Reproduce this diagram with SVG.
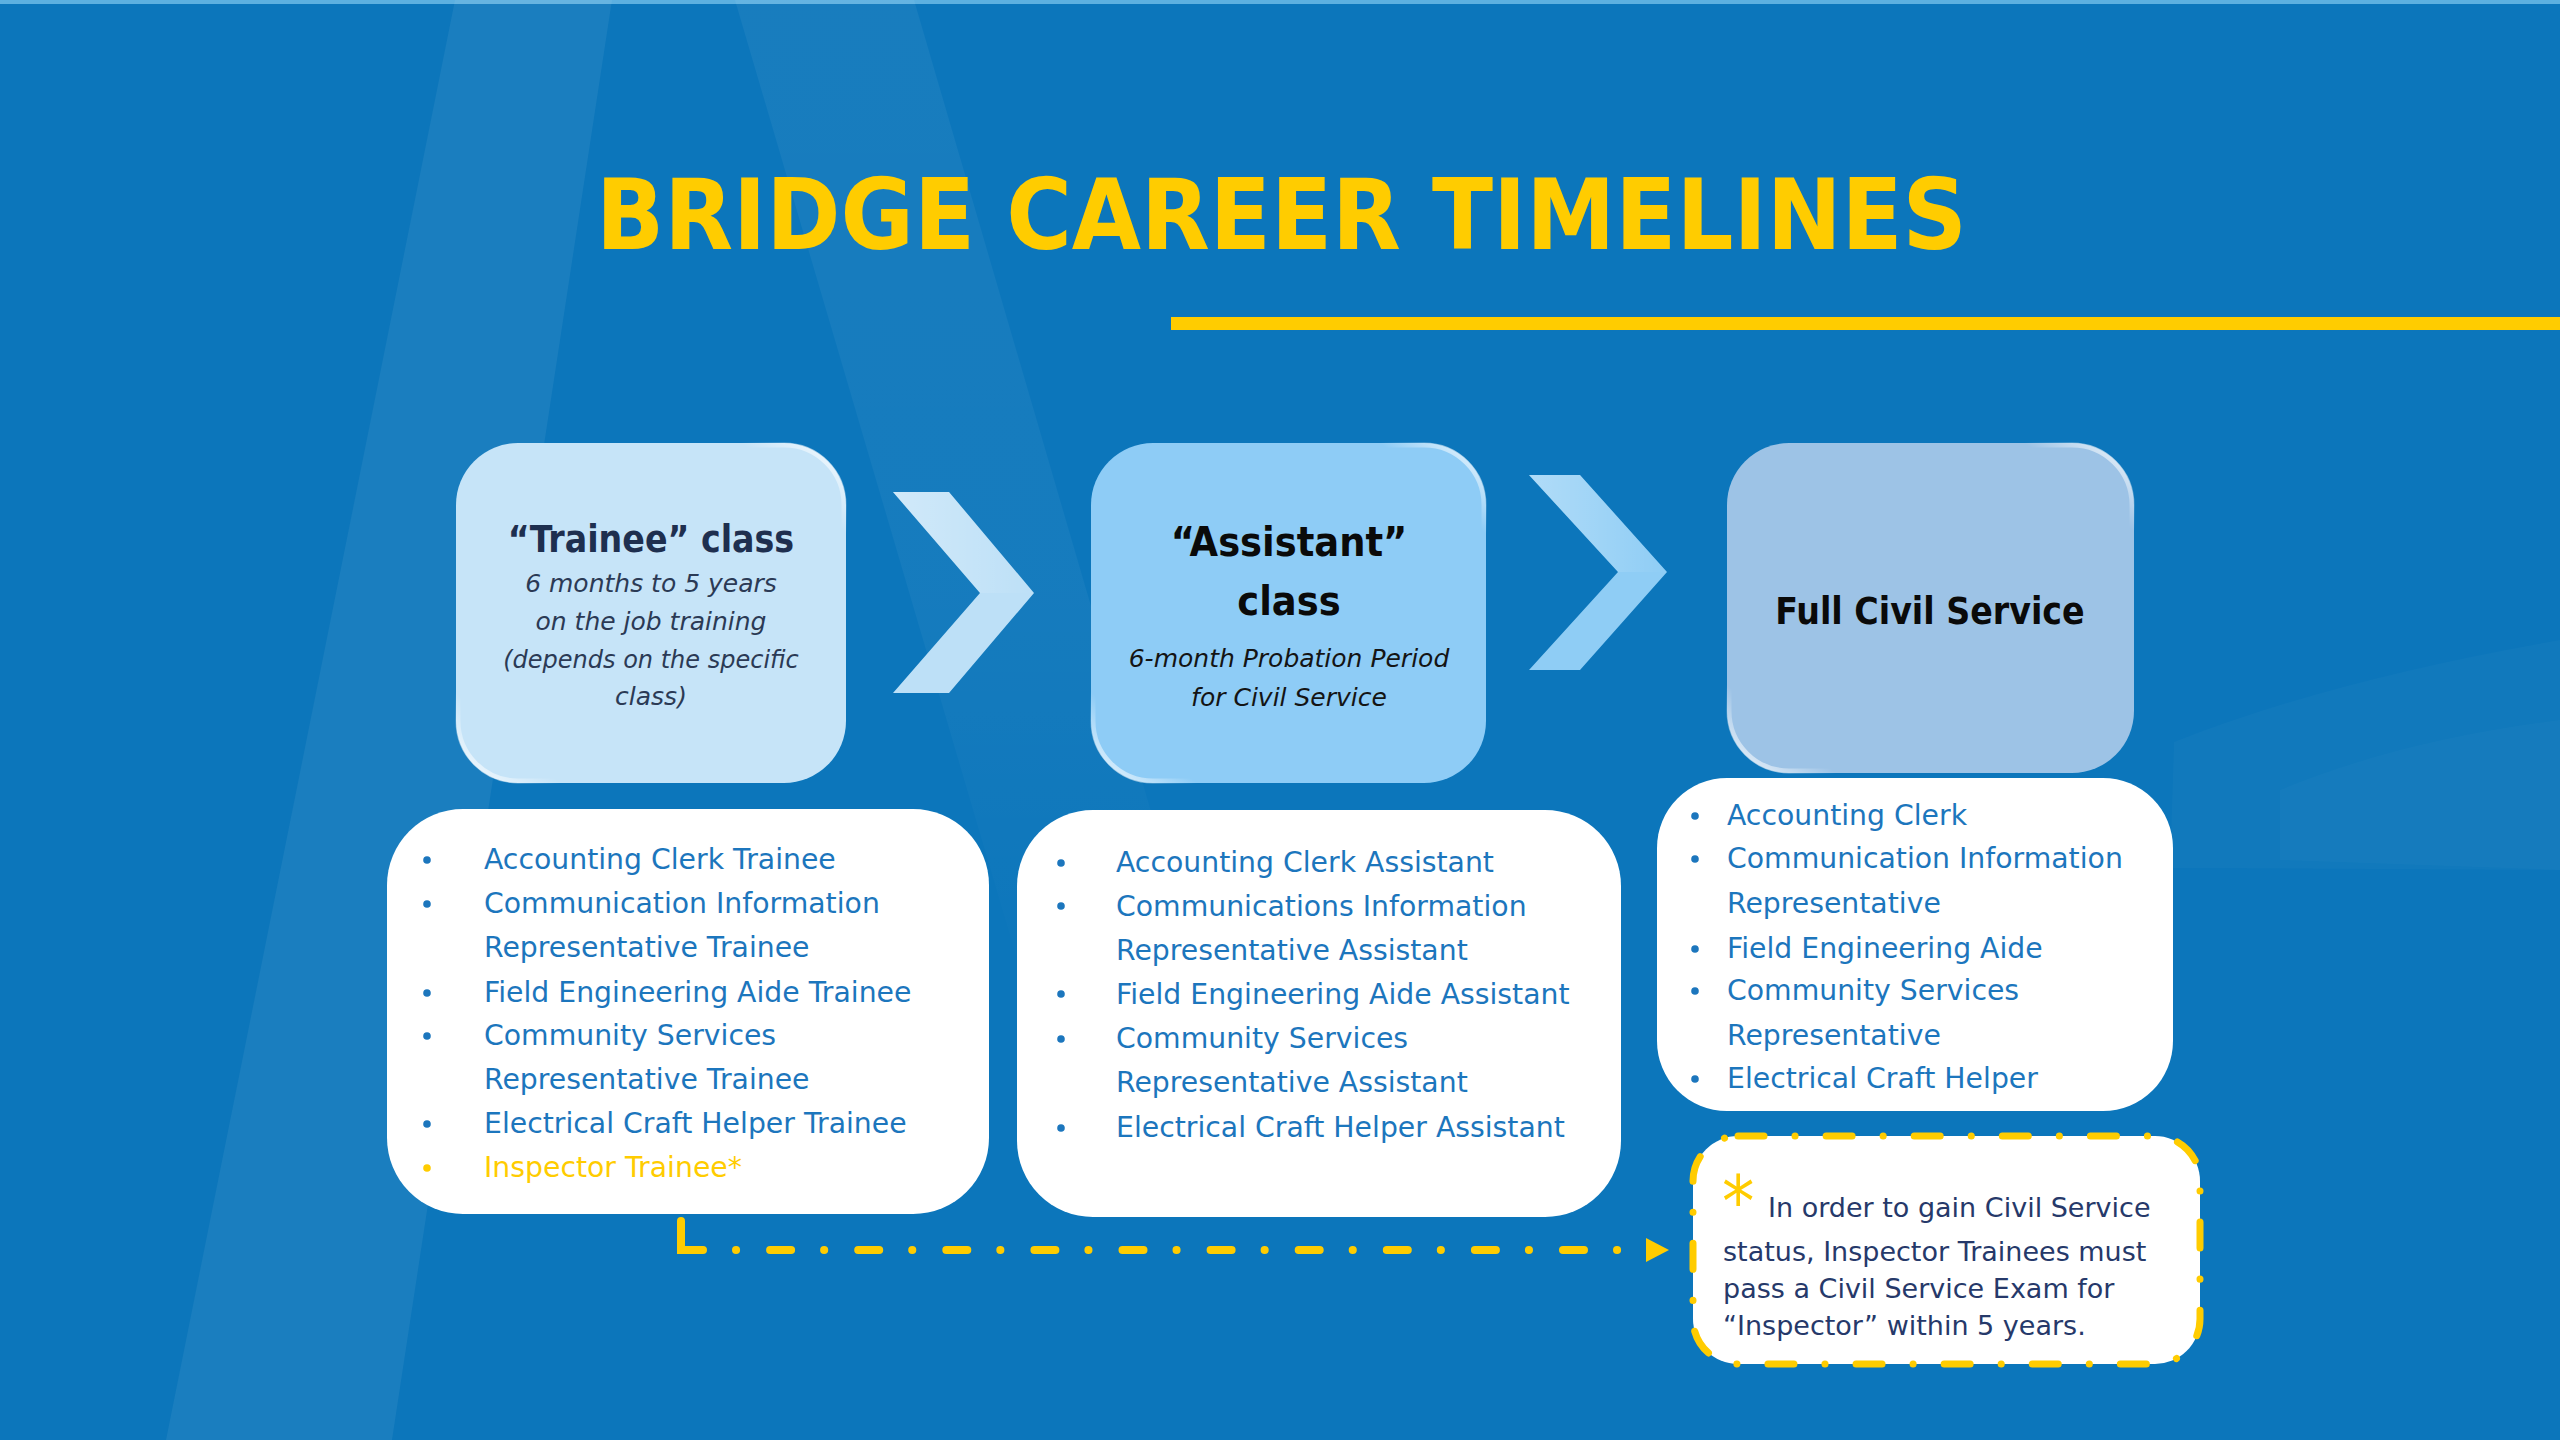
<svg xmlns="http://www.w3.org/2000/svg" width="2560" height="1440" viewBox="0 0 2560 1440">
<style>
.f{font-family:"DejaVu Sans Condensed","DejaVu Sans",sans-serif;font-stretch:condensed}
.n{font-family:"DejaVu Sans",sans-serif}
.title{font-weight:bold;font-size:98px;fill:#FFCC00}
.head{font-weight:bold;text-anchor:middle}
.sub{font-style:italic;font-size:25px;text-anchor:middle}
.li{font-size:28.3px;fill:#1C76BD}
.note{font-size:27px;fill:#26396A}
.bul{fill:#1C76BD}
.card{fill:#FFFFFF}
</style>
<defs>
<linearGradient id="gloss" x1="1" y1="0" x2="0" y2="1">
<stop offset="0" stop-color="#fff" stop-opacity="0.9"/>
<stop offset="0.13" stop-color="#fff" stop-opacity="0"/>
<stop offset="0.87" stop-color="#fff" stop-opacity="0"/>
<stop offset="1" stop-color="#fff" stop-opacity="0.9"/>
</linearGradient>
<linearGradient id="chev" x1="0" y1="0" x2="1" y2="0">
<stop offset="0" stop-color="#fff" stop-opacity="0.5"/>
<stop offset="1" stop-color="#fff" stop-opacity="0"/>
</linearGradient>
<linearGradient id="fade" gradientUnits="userSpaceOnUse" x1="0" y1="0" x2="0" y2="1000">
<stop offset="0" stop-color="#fff" stop-opacity="0.05"/>
<stop offset="0.6" stop-color="#fff" stop-opacity="0.04"/>
<stop offset="1" stop-color="#fff" stop-opacity="0"/>
</linearGradient>
<marker id="arr" markerUnits="userSpaceOnUse" markerWidth="24" markerHeight="26" refX="0" refY="13" orient="auto">
<polygon points="0,1 23,13 0,25" fill="#FFCC00"/>
</marker>
</defs>
<rect width="2560" height="1440" fill="#0C76BB"/>
<rect width="2560" height="4" fill="#5DB0E0"/>
<g id="watermark" fill="#FFFFFF">
<polygon points="455,0 612,0 392,1440 166,1440" opacity="0.06"/>
<polygon points="735,0 914,0 1206,1000 1029,1000" fill="url(#fade)"/>
<path d="M2174,742 Q2330,680 2560,640 L2560,870 L2170,868 Z" opacity="0.025"/>
<path d="M2280,790 Q2400,740 2560,720 L2560,870 L2280,860 Z" opacity="0.02"/>
</g>
<g id="title">
<text class="f title" x="596" y="249" textLength="1371" lengthAdjust="spacingAndGlyphs">BRIDGE CAREER TIMELINES</text>
<rect x="1171" y="317" width="1389" height="13" fill="#FFCC00"/>
</g>
<g id="trainee">
<rect x="456" y="443" width="390" height="340" rx="62" fill="#C6E4F8"/>
<rect x="458" y="445" width="386" height="336" rx="60" fill="none" stroke="url(#gloss)" stroke-width="5"/>
<text class="f head" x="651" y="552" font-size="37" fill="#1E2F4F">“Trainee” class</text>
<g class="n sub" fill="#2B3A55">
<text x="651" y="592">6 months to 5 years</text>
<text x="651" y="630">on the job training</text>
<text x="651" y="668" font-size="24">(depends on the specific</text>
<text x="651" y="705">class)</text>
</g>
</g>
<g id="assistant">
<rect x="1091" y="443" width="395" height="340" rx="62" fill="#8ECCF6"/>
<rect x="1093" y="445" width="391" height="336" rx="60" fill="none" stroke="url(#gloss)" stroke-width="5"/>
<text class="f head" x="1289" y="556" font-size="41" fill="#0A0A0A">“Assistant”</text>
<text class="f head" x="1289" y="615" font-size="41" fill="#0A0A0A">class</text>
<g class="n sub" fill="#141414">
<text x="1289" y="667">6-month Probation Period</text>
<text x="1289" y="706">for Civil Service</text>
</g>
</g>
<g id="fullcivil">
<rect x="1727" y="443" width="407" height="330" rx="62" fill="#9DC3E6"/>
<rect x="1729" y="445" width="403" height="326" rx="60" fill="none" stroke="url(#gloss)" stroke-width="5"/>
<text class="f head" x="1930" y="624" font-size="37" fill="#0A0A0A">Full Civil Service</text>
</g>
<g id="chevrons">
<path d="M893,492 L949,492 L1034,593 L949,693 L893,693 L980,593 Z" fill="#BDE0F7"/>
<path d="M893,492 L949,492 L1034,593 L980,593 Z" fill="url(#chev)" opacity="0.6"/>
<path d="M1529,475 L1580,475 L1667,572 L1580,670 L1529,670 L1618,572 Z" fill="#8FCDF5"/>
<path d="M1529,475 L1580,475 L1667,572 L1618,572 Z" fill="url(#chev)" opacity="0.6"/>
</g>
<g id="trainee-list">
<rect class="card" x="387" y="809" width="602" height="405" rx="76"/>
<g class="bul">
<circle cx="427" cy="860" r="3.8"/><circle cx="427" cy="904" r="3.8"/><circle cx="427" cy="993" r="3.8"/><circle cx="427" cy="1036" r="3.8"/><circle cx="427" cy="1124" r="3.8"/><circle cx="427" cy="1168" r="3.8" fill="#FFCC00"/>
</g>
<g class="n li">
<text x="484" y="869">Accounting Clerk Trainee</text>
<text x="484" y="913">Communication Information</text>
<text x="484" y="957">Representative Trainee</text>
<text x="484" y="1002">Field Engineering Aide Trainee</text>
<text x="484" y="1045">Community Services</text>
<text x="484" y="1089">Representative Trainee</text>
<text x="484" y="1133">Electrical Craft Helper Trainee</text>
<text x="484" y="1177" fill="#FFCC00">Inspector Trainee*</text>
</g>
</g>
<g id="assistant-list">
<rect class="card" x="1017" y="810" width="604" height="407" rx="76"/>
<g class="bul">
<circle cx="1061" cy="863" r="3.8"/><circle cx="1061" cy="906" r="3.8"/><circle cx="1061" cy="994" r="3.8"/><circle cx="1061" cy="1039" r="3.8"/><circle cx="1061" cy="1128" r="3.8"/>
</g>
<g class="n li">
<text x="1116" y="872">Accounting Clerk Assistant</text>
<text x="1116" y="916">Communications Information</text>
<text x="1116" y="960">Representative Assistant</text>
<text x="1116" y="1004">Field Engineering Aide Assistant</text>
<text x="1116" y="1048">Community Services</text>
<text x="1116" y="1092">Representative Assistant</text>
<text x="1116" y="1137">Electrical Craft Helper Assistant</text>
</g>
</g>
<g id="civil-list">
<rect class="card" x="1657" y="778" width="516" height="333" rx="70"/>
<g class="bul">
<circle cx="1695" cy="816" r="3.8"/><circle cx="1695" cy="859" r="3.8"/><circle cx="1695" cy="949" r="3.8"/><circle cx="1695" cy="991" r="3.8"/><circle cx="1695" cy="1079" r="3.8"/>
</g>
<g class="n li">
<text x="1727" y="825">Accounting Clerk</text>
<text x="1727" y="868">Communication Information</text>
<text x="1727" y="913">Representative</text>
<text x="1727" y="958">Field Engineering Aide</text>
<text x="1727" y="1000">Community Services</text>
<text x="1727" y="1045">Representative</text>
<text x="1727" y="1088">Electrical Craft Helper</text>
</g>
</g>
<g id="note">
<rect x="1693" y="1136" width="507" height="228" rx="45" fill="#FFFFFF" stroke="#FFCC00" stroke-width="7" stroke-linecap="round" stroke-dasharray="26 31 0.1 31"/>
<text class="f" x="1722" y="1226" font-size="72" fill="#FFCC00">*</text>
<g class="n note">
<text x="1768" y="1217">In order to gain Civil Service</text>
<text x="1723" y="1261">status, Inspector Trainees must</text>
<text x="1723" y="1298">pass a Civil Service Exam for</text>
<text x="1723" y="1335">“Inspector” within 5 years.</text>
</g>
</g>
<g id="connectors" fill="none" stroke="#FFCC00" stroke-width="8" stroke-linecap="round">
<path d="M681,1221 V1250 H703"/>
<path d="M736,1250 H1646" stroke-dasharray="0.1 34 21 33" marker-end="url(#arr)"/>
</g>
</svg>
